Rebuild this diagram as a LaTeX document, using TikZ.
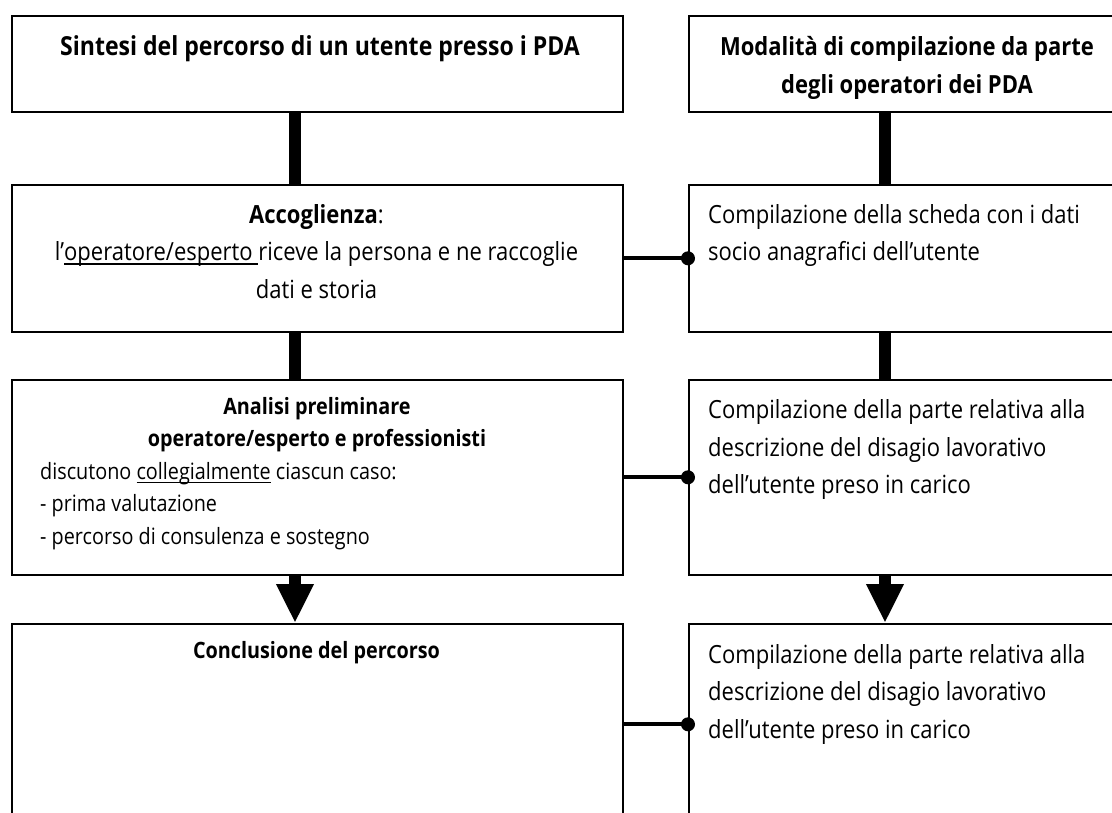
\documentclass[tikz,border=0pt]{standalone}
\usepackage{fontspec}
\setmainfont{Open Sans}[FakeStretch=0.88]
\usetikzlibrary{arrows.meta}
\newsavebox\ulbox
\newcommand\myul[1]{\sbox\ulbox{#1}\rlap{\rule[-4pt]{\wd\ulbox}{1.3pt}}\usebox\ulbox}
\begin{document}
\begin{tikzpicture}[x=1pt,y=-1pt,
  box/.style={draw, line width=1.6pt, inner sep=0pt, anchor=north west},
  bar/.style={line width=12pt},
  arr/.style={-{Triangle[length=39pt,width=35pt]}},
  link/.style={line width=4pt},
  dot/.style={circle, fill, inner sep=0pt, minimum size=14pt},
  big/.style={font=\fontsize{25}{37.5}\selectfont},
  bigb/.style={font=\fontsize{25}{38}\selectfont\bfseries},
  small/.style={font=\fontsize{22.5}{32.5}\selectfont},
  smallb/.style={font=\fontsize{22.5}{32.5}\selectfont\bfseries},
  txt/.style={inner sep=0pt}]
\clip (0,0) rectangle (1112,812);
\fill[white] (0,0) rectangle (1112,812);
% boxes
\node[box, minimum width=611pt, minimum height=96pt] (l1) at (11,15) {};
\node[box, minimum width=440pt, minimum height=96pt] (r1) at (688,15) {};
\node[box, minimum width=611pt, minimum height=147pt] (l2) at (11,184) {};
\node[box, minimum width=440pt, minimum height=147pt] (r2) at (688,184) {};
\node[box, minimum width=611pt, minimum height=195pt] (l3) at (11,379) {};
\node[box, minimum width=440pt, minimum height=195pt] (r3) at (688,379) {};
\node[box, minimum width=611pt, minimum height=201pt] (l4) at (11,623) {};
\node[box, minimum width=440pt, minimum height=201pt] (r4) at (688,623) {};
% texts
\node[txt, bigb, anchor=base] (t1) at (320,55) {\fontsize{26.2}{38}\selectfont Sintesi del percorso di un utente presso i PDA};
\node[txt, bigb, anchor=north, align=center] (t2) at (907,28.4) {\strut Modalità di compilazione da parte\\degli operatori dei PDA};
\node[txt, big, anchor=north, align=center] (t3) at (316.5,196.75) {\strut\textbf{Accoglienza}:\\l’\myul{operatore/esperto }riceve la persona e ne raccoglie\\dati e storia};
\node[txt, big, anchor=north west, align=left] (t4) at (708,196.75) {\strut Compilazione della scheda con i dati\\socio anagrafici dell’utente};
\node[txt, smallb, anchor=north, align=center] (t5a) at (317,391.25) {\strut Analisi preliminare\\operatore/esperto e professionisti};
\node[txt, small, anchor=north west, align=left] (t5b) at (40,456.25) {\strut discutono \myul{collegialmente} ciascun caso:\\- prima valutazione\\- percorso di consulenza e sostegno};
\node[txt, big, anchor=north west, align=left] (t6) at (708,392.25) {\strut Compilazione della parte relativa alla\\descrizione del disagio lavorativo\\dell’utente preso in carico};
\node[txt, smallb, anchor=base] (t7) at (316.5,658) {Conclusione del percorso};
\node[txt, big, anchor=north west, align=left] (t8) at (708,636.75) {\strut Compilazione della parte relativa alla\\descrizione del disagio lavorativo\\dell’utente preso in carico};
% vertical connectors
\coordinate (bl) at (295,0);
\coordinate (br) at (885,0);
\draw[bar] (l1.south -| bl) -- (l2.north -| bl);
\draw[bar] (l2.south -| bl) -- (l3.north -| bl);
\draw[bar, arr] (l3.south -| bl) -- (l4.north -| bl);
\draw[bar] (r1.south -| br) -- (r2.north -| br);
\draw[bar] (r2.south -| br) -- (r3.north -| br);
\draw[bar, arr] (r3.south -| br) -- (r4.north -| br);
% horizontal links
\draw[link] (l2.east) -- (r2.west) node[dot] (d2) {};
\draw[link] (l3.east) -- (r3.west) node[dot] (d3) {};
\draw[link] (l4.east) -- (r4.west) node[dot] (d4) {};
\end{tikzpicture}
\end{document}
